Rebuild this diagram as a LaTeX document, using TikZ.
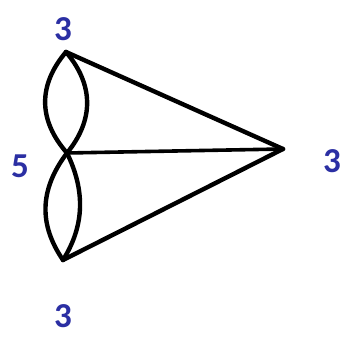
\documentclass[tikz,border=0pt]{standalone}
\usepackage{fontspec}
\setmainfont{Carlito}
\definecolor{lblue}{HTML}{2B2FA3}
\begin{document}
\begin{tikzpicture}[x=1pt,y=-1pt,
  edge/.style={line width=4.4pt,line cap=round,line join=round},
  lbl/.style={text=lblue,font=\fontsize{35}{35}\selectfont\bfseries,inner sep=0pt}]
\useasboundingbox (0,0) rectangle (343,339);
\coordinate (t) at (66,52);
\coordinate (m) at (67,153);
\coordinate (b) at (63,260);
\coordinate (r) at (283,149);
\draw[edge] (t) .. controls (38,85) and (38,120) .. (m);
\draw[edge] (t) .. controls (94,85) and (94,120) .. (m);
\draw[edge] (m) .. controls (39,190) and (39,225) .. (b);
\draw[edge] (m) .. controls (85,190) and (85,225) .. (b);
\draw[edge] (t) -- (r);
\draw[edge,line width=3.6pt] (m) -- (r);
\draw[edge] (b) -- (r);
\node[lbl] (lt) at (63,29) {3};
\node[lbl] (lm) at (20,166) {5};
\node[lbl] (lr) at (332,161) {3};
\node[lbl] (lb) at (63,316) {3};
\end{tikzpicture}
\end{document}
